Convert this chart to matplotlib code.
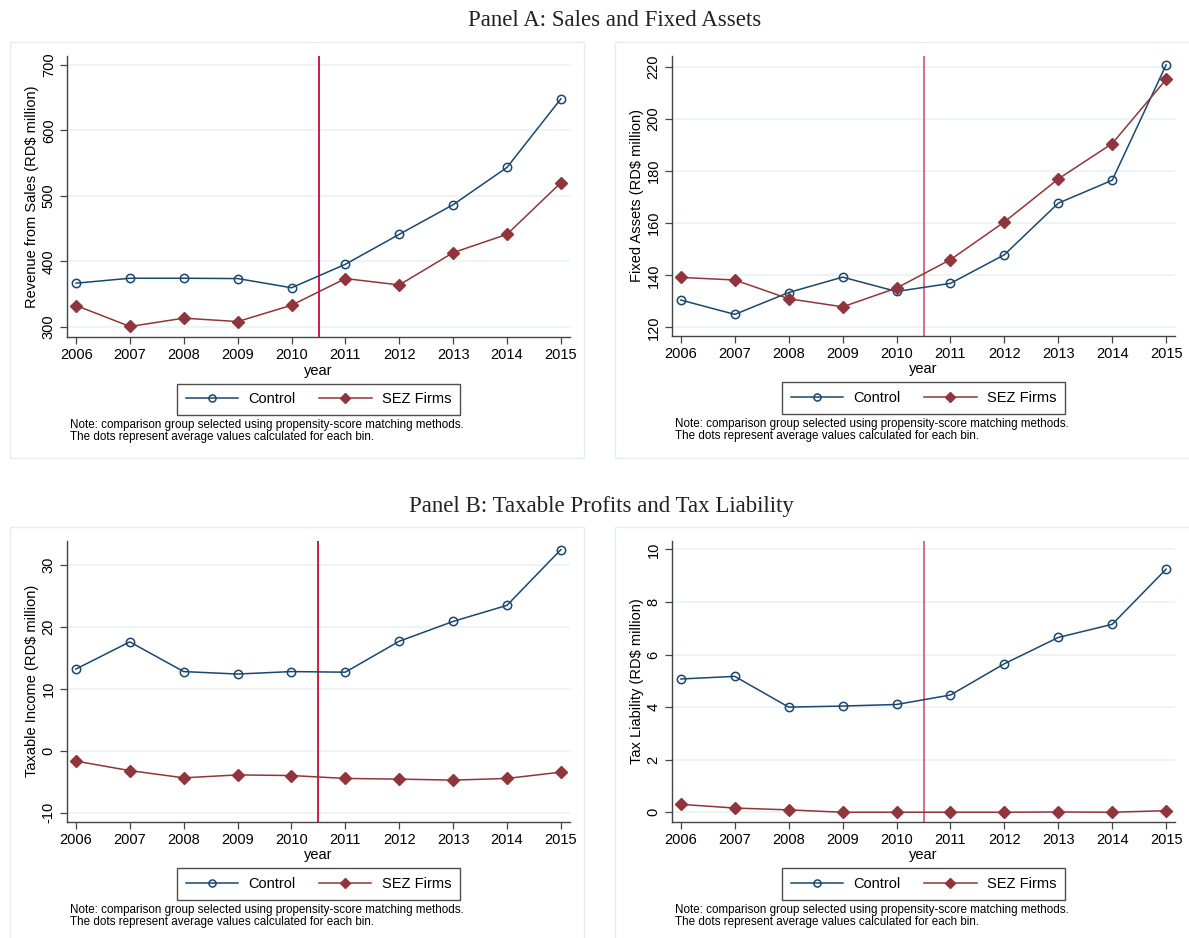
import matplotlib
matplotlib.use('Agg')
import matplotlib.pyplot as plt
from matplotlib.patches import Rectangle

# data
years = [2006, 2007, 2008, 2009, 2010, 2011, 2012, 2013, 2014, 2015]

sales_control = [367, 374.5, 374.5, 374, 360, 395.8, 441.4, 486.5, 543.3, 647.7]
sales_sez = [332.9, 301, 313.7, 308.5, 333.4, 374, 364.3, 413.5, 441.4, 519.9]

assets_control = [130.5, 125, 133.4, 139.3, 133.8, 136.9, 147.9, 167.7, 176.5, 220.8]
assets_sez = [139.2, 138.2, 131, 127.9, 135.1, 146, 160.5, 177, 190.6, 215.2]

income_control = [13.2, 17.6, 12.8, 12.4, 12.8, 12.7, 17.7, 20.9, 23.5, 32.5]
income_sez = [-1.67, -3.2, -4.37, -3.9, -4.0, -4.47, -4.58, -4.74, -4.47, -3.45]

tax_control = [5.07, 5.17, 4.0, 4.04, 4.1, 4.46, 5.65, 6.65, 7.15, 9.25]
tax_sez = [0.30, 0.16, 0.09, 0.0, 0.0, 0.0, 0.0, 0.01, 0.0, 0.06]

ylabels = ['Revenue from Sales (RD$ million)', 'Fixed Assets (RD$ million)',
           'Taxable Income (RD$ million)', 'Tax Liability (RD$ million)']
yticks = [[300, 400, 500, 600, 700], [120, 140, 160, 180, 200, 220],
          [-10, 0, 10, 20, 30], [0, 2, 4, 6, 8, 10]]
ylims = [(285, 713), (116.7, 224.2), (-11.46, 33.9), (-0.36, 10.32)]
series = [(sales_control, sales_sez), (assets_control, assets_sez),
          (income_control, income_sez), (tax_control, tax_sez)]

NAVY = '#1a476f'
MAROON = '#90353b'
GRID = '#eaf2f3'
NOTE = ('Note: comparison group selected using propensity-score matching methods.\n'
        'The dots represent average values calculated for each bin.')

W, H = 1189, 938
fig = plt.figure(figsize=(W / 100, H / 100), dpi=100)
plt.rcParams['font.family'] = 'Liberation Sans'


def px_axes(l, t, r, b):
    return fig.add_axes([l / W, 1 - b / H, (r - l) / W, (b - t) / H])


def px_box(l, t, r, b):
    fig.patches.append(Rectangle((l / W, 1 - b / H), (r - l) / W, (b - t) / H,
                                 transform=fig.transFigure, fill=False,
                                 edgecolor='#e6ecee', lw=1.0, zorder=0))


# outer boxes of the four graphs
px_box(10, 42, 584, 458)
px_box(615, 42, 1200, 458)
px_box(10, 527, 584, 950)
px_box(615, 527, 1200, 950)

fig.text(615 / W, 1 - 21 / H, 'Panel A: Sales and Fixed Assets', family='Liberation Serif',
         fontsize=16.5, ha='center', va='center', color='#222222')
fig.text(601 / W, 1 - 506 / H, 'Panel B: Taxable Profits and Tax Liability', family='Liberation Serif',
         fontsize=16.5, ha='center', va='center', color='#222222')

boxes = [(67, 56, 570, 337), (671.7, 56, 1175.3, 336),
         (66.7, 541, 570, 821.7), (671.7, 541, 1175.3, 821.7)]
line_colors = ['#cc0a3a', '#d6607c', '#cc0a3a', '#d6607c']

for i, (l, t, r, b) in enumerate(boxes):
    ax = px_axes(l, t, r, b)
    ctrl, sez = series[i]
    ax.plot(years, ctrl, color=NAVY, lw=1.1, marker='o', ms=6, mfc='none',
            mec=NAVY, mew=1.1, label='Control', zorder=3)
    ax.plot(years, sez, color=MAROON, lw=1.1, marker='D', ms=6.5, mfc=MAROON,
            mec=MAROON, label='SEZ Firms', zorder=3)
    ax.axvline(2010.5, color=line_colors[i], lw=1.3, zorder=2)

    ax.set_xlim(2005.83, 2015.17)
    ax.set_ylim(*ylims[i])
    ax.set_xticks(years)
    ax.set_yticks(yticks[i])
    ax.set_yticklabels([str(v) for v in yticks[i]], rotation=90, va='center')
    ax.tick_params(labelsize=10.5, length=5, width=0.9, color='#444444', pad=3)
    ax.grid(axis='y', color=GRID, lw=1.2)
    ax.set_axisbelow(True)
    for s in ['top', 'right']:
        ax.spines[s].set_visible(False)
    for s in ['left', 'bottom']:
        ax.spines[s].set_color('#444444')
        ax.spines[s].set_linewidth(1.0)

    ax.set_xlabel('year', fontsize=10.5, labelpad=1)
    ax.set_ylabel(ylabels[i], fontsize=10.5, labelpad=2)

    leg = ax.legend(loc='upper center', bbox_to_anchor=(0.5, -0.15), ncol=2,
                    fontsize=10.5, frameon=True, fancybox=False, handlelength=3.6,
                    columnspacing=1.6, borderpad=0.6, handletextpad=0.7,
                    borderaxespad=0.3, markerscale=0.85)
    leg.get_frame().set_edgecolor('#222222')
    leg.get_frame().set_linewidth(1.0)

    fig.text((l + 3) / W, 1 - (b + 82) / H, NOTE, fontsize=8.4, ha='left', va='top',
             linespacing=1.0)

fig.savefig('out.png', dpi=100, facecolor='white')
